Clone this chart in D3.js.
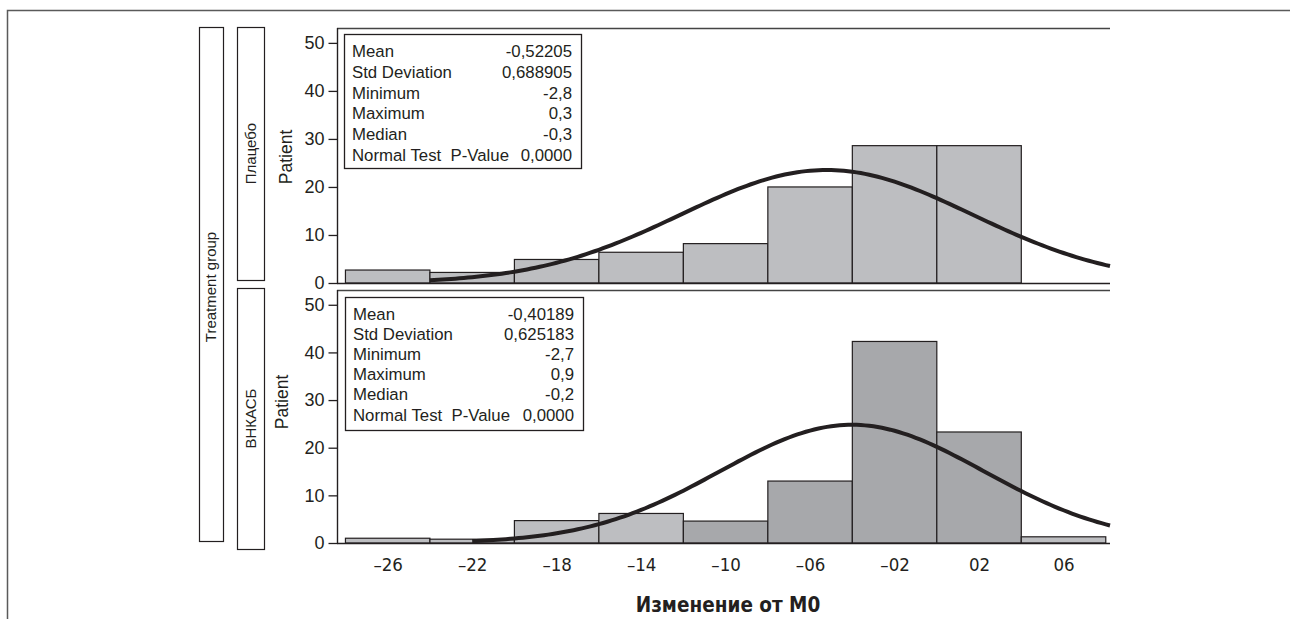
<!DOCTYPE html>
<meta charset="utf-8">
<html>
<script src="https://d3js.org/d3.v7.min.js"></script>
<style>
    body { margin: 0; background: #fff; }
    text { fill: #231f20; font-family: "Liberation Sans", Arial, sans-serif; }
    .narrow { font-family: "Liberation Sans Narrow", "Arial Narrow", "DejaVu Sans Condensed", sans-serif; }
</style>
<body>
<div id="chart"></div>
<script>
// values
var binLeft = [-2.8, -2.4, -2.0, -1.6, -1.2, -0.8, -0.4, 0.0, 0.4];
var binWidth = 0.4;
var placeboCounts = [2.7, 2.2, 4.9, 6.4, 8.2, 20.0, 28.6, 28.6, 0];
var vnkasbCounts = [1.0, 0.8, 4.7, 6.2, 4.6, 13.0, 42.3, 23.3, 1.3];

var xTickValues = [-2.6, -2.2, -1.8, -1.4, -1.0, -0.6, -0.2, 0.2, 0.6];
var xTickLabels = ["–26", "–22", "–18", "–14", "–10", "–06", "–02", "02", "06"];
var yTickValues = [0, 10, 20, 30, 40, 50];

var statLabels = ["Mean", "Std Deviation", "Minimum", "Maximum", "Median", "Normal Test  P-Value"];
var placeboStats = ["-0,52205", "0,688905", "-2,8", "0,3", "-0,3", "0,0000"];
var vnkasbStats = ["-0,40189", "0,625183", "-2,7", "0,9", "-0,2", "0,0000"];

var groupNames = ["Плацебо", "ВНКАСБ"];
var curveFrom = [-2.4, -2.2];   // where the fitted curve starts in each panel

var sideTitle = "Treatment group";
var yTitle = "Patient";
var xTitle = "Изменение от M0";

// ---------------------------------------------------------------
var W = 1290, H = 619;
var ink = "#231f20";
var light = "#bdbec1", dark = "#a7a8ab";
var darkBins = [[], [4, 5, 6, 7]];   // bottom panel: the middle bins are a darker grey

var svg = d3.select("#chart").append("svg")
    .attr("width", W).attr("height", H);

// outer frame (top + left only)
svg.append("path")
    .attr("d", "M7.5,619V10.5H1290")
    .attr("fill", "none").attr("stroke", "#5a5a5a").attr("stroke-width", 1.5);

var x = d3.scaleLinear().domain([-2.84, 0.82]).range([337, 1110]);

var panels = [
    { name: groupNames[0], counts: placeboCounts, stats: placeboStats, top: 28, bottom: 283,
      box: { x: 344, y: 34, w: 237, h: 134, first: 57, step: 20.8 } },
    { name: groupNames[1], counts: vnkasbCounts, stats: vnkasbStats, top: 290, bottom: 543,
      box: { x: 345, y: 297, w: 238, h: 133, first: 320, step: 20.1 } }
];

panels.forEach(function (p, i) {
    var y = d3.scaleLinear().domain([0, 53.1]).range([p.bottom, p.top]);
    var g = svg.append("g");

    // bars
    g.selectAll("rect.bar")
        .data(p.counts.map(function (c, j) { return { x0: binLeft[j], n: c, j: j }; })
            .filter(function (d) { return d.n > 0; }))
        .enter().append("rect")
        .attr("class", "bar")
        .attr("x", function (d) { return x(d.x0); })
        .attr("width", function (d) { return x(d.x0 + binWidth) - x(d.x0); })
        .attr("y", function (d) { return y(d.n); })
        .attr("height", function (d) { return y(0) - y(d.n); })
        .attr("fill", function (d) { return darkBins[i].indexOf(d.j) >= 0 ? dark : light; })
        .attr("stroke", ink).attr("stroke-width", 1.2);

    // fitted normal curve from the listed mean / std deviation
    var mean = +p.stats[0].replace(",", "."), sd = +p.stats[1].replace(",", ".");
    var total = d3.sum(p.counts);
    var pdf = function (v) {
        return total * binWidth / (sd * Math.sqrt(2 * Math.PI)) * Math.exp(-0.5 * Math.pow((v - mean) / sd, 2));
    };
    var xs = d3.range(curveFrom[i], x.domain()[1] + 0.0001, 0.02);
    g.append("path")
        .datum(xs)
        .attr("fill", "none").attr("stroke", ink).attr("stroke-width", 4)
        .attr("d", d3.line().x(function (v) { return x(v); }).y(function (v) { return y(pdf(v)); }));

    // frame lines top and bottom
    g.append("line").attr("x1", 337).attr("x2", 1110).attr("y1", p.top + 0.5).attr("y2", p.top + 0.5)
        .attr("stroke", "#444").attr("stroke-width", 1.4);
    g.append("line").attr("x1", 337).attr("x2", 1110).attr("y1", p.bottom + 0.5).attr("y2", p.bottom + 0.5)
        .attr("stroke", ink).attr("stroke-width", 1.6);

    // y axis
    var ya = g.append("g")
        .attr("transform", "translate(337.5,0)")
        .call(d3.axisLeft(y).tickValues(yTickValues).tickSize(9).tickSizeOuter(0).tickPadding(4));
    ya.select(".domain").attr("stroke", ink).attr("stroke-width", 1.4)
        .attr("d", "M0," + p.top + "V" + p.bottom);
    ya.selectAll(".tick line").attr("stroke", ink).attr("stroke-width", 1.3);
    ya.selectAll(".tick text").style("font-size", "18px").attr("fill", ink)
        .style("font-family", "'Liberation Sans', Arial, sans-serif");

    g.append("text")
        .attr("transform", "translate(" + (i === 0 ? 292 : 288) + "," + (i === 0 ? 157 : 402) + ") rotate(-90)")
        .attr("text-anchor", "middle")
        .style("font-size", "17.5px")
        .text(yTitle);

    // stats box
    var b = p.box;
    g.append("rect").attr("x", b.x + 0.5).attr("y", b.y + 0.5).attr("width", b.w).attr("height", b.h)
        .attr("fill", "#fff").attr("stroke", ink).attr("stroke-width", 1.3);
    statLabels.forEach(function (lab, k) {
        g.append("text").attr("x", b.x + 8).attr("y", b.first + k * b.step)
            .style("font-size", "16.8px").style("white-space", "pre").text(lab);
        g.append("text").attr("x", b.x + b.w - 9).attr("y", b.first + k * b.step)
            .attr("text-anchor", "end")
            .style("font-size", "16.8px").text(p.stats[k]);
    });

    // group label box
    var gy0 = i === 0 ? 27 : 288, gy1 = i === 0 ? 280 : 549;
    svg.append("rect").attr("x", 237.5).attr("y", gy0 + 0.5).attr("width", 27).attr("height", gy1 - gy0)
        .attr("fill", "none").attr("stroke", ink).attr("stroke-width", 1.2);
    svg.append("text")
        .attr("transform", "translate(256," + ((gy0 + gy1) / 2) + ") rotate(-90)")
        .attr("text-anchor", "middle")
        .style("font-size", "15px")
        .text(p.name);
});

// treatment group box
svg.append("rect").attr("x", 199.5).attr("y", 27.5).attr("width", 24).attr("height", 514)
    .attr("fill", "none").attr("stroke", ink).attr("stroke-width", 1.2);
svg.append("text")
    .attr("transform", "translate(216,287) rotate(-90)")
    .attr("text-anchor", "middle")
    .style("font-size", "15px")
    .text(sideTitle);

// x axis labels
var xa = svg.append("g")
    .attr("transform", "translate(0,543)")
    .call(d3.axisBottom(x).tickValues(xTickValues).tickSize(0).tickPadding(15)
        .tickFormat(function (d, k) { return xTickLabels[k]; }));
xa.select(".domain").remove();
xa.selectAll(".tick text").attr("class", "narrow").attr("fill", ink).style("font-size", "18.5px");

svg.append("text")
    .attr("class", "narrow")
    .attr("x", 728).attr("y", 612)
    .attr("text-anchor", "middle")
    .style("font-size", "20.5px").style("font-weight", "bold")
    .text(xTitle);
</script>
</body>
</html>
